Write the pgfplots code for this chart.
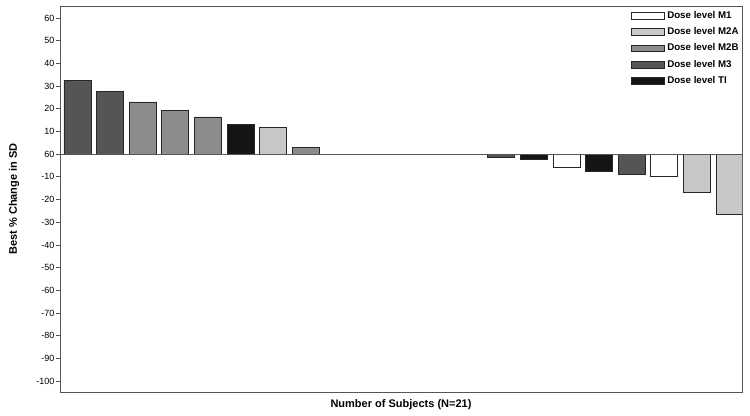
\documentclass[border=0pt]{standalone}
\usepackage{fontspec}
\setmainfont{Liberation Sans}
\usepackage{pgfplots}
\pgfplotsset{compat=1.18}
\usetikzlibrary{calc}
\definecolor{cM1}{HTML}{FFFFFF}
\definecolor{cM2A}{HTML}{C8C8C8}
\definecolor{cM2B}{HTML}{8C8C8C}
\definecolor{cM3}{HTML}{555555}
\definecolor{cTI}{HTML}{151515}
\definecolor{frame}{HTML}{555555}
\begin{document}
\begin{tikzpicture}
\begin{axis}[name=ax, scale only axis, width=511.5pt, height=289.5pt,
  xmin=0.463, xmax=21.38, ymin=-104.8, ymax=65.3,
  ybar, bar width=0.83,
  every axis plot/.append style={bar shift=0pt, draw=black!85, line width=0.7pt},
  xtick=\empty,
  ytick={-100,-90,...,60},
  yticklabels={-100,-90,-80,-70,-60,-50,-40,-30,-20,-10,60,10,20,30,40,50,60},
  ytick pos=left, tick align=outside, major tick length=3pt,
  axis line style={frame, line width=0.7pt}, tick style={frame, line width=0.6pt},
  yticklabel style={font=\fontsize{6.75}{7}\selectfont, inner sep=1pt},
  ylabel={\bfseries Best \% Change in SD},
  xlabel={\bfseries Number of Subjects (N=21)},
  label style={font=\fontsize{8.25}{9}\selectfont},
  ylabel style={at={(rel axis cs:0,0.5)}, anchor=center, rotate=0, yshift=34.5pt},
  xlabel style={at={(rel axis cs:0.5,0)}, anchor=center, yshift=-9.75pt},
  legend style={at={(rel axis cs:1,1)}, anchor=north east, draw=none, fill=none,
    font=\bfseries\fontsize{7.3}{8}\selectfont, row sep=1.4pt, inner sep=3pt,
    cells={anchor=west}, xshift=2.7pt, yshift=1.2pt},
  legend image code/.code={\draw[#1, line width=0.5pt] (0cm,-0.09cm) rectangle (0.88cm,0.09cm);},
]
\addplot[fill=cM1] coordinates {(16,-6.0) (19,-9.9)};
\addlegendentry{Dose level M1}
\addplot[fill=cM2A] coordinates {(7,11.6) (20,-16.8) (21,-26.5)};
\addlegendentry{Dose level M2A}
\addplot[fill=cM2B] coordinates {(3,23.0) (4,19.4) (5,16.4) (8,2.8)};
\addlegendentry{Dose level M2B}
\addplot[fill=cM3] coordinates {(1,32.6) (2,27.8) (14,-1.3) (18,-9.1)};
\addlegendentry{Dose level M3}
\addplot[fill=cTI] coordinates {(6,13.1) (15,-2.5) (17,-7.6)};
\addlegendentry{Dose level TI}
\draw[frame, line width=0.7pt] (axis cs:0.463,0) -- (axis cs:21.38,0);
\end{axis}
\pgfresetboundingbox
\path ($(ax.south west)+(-45pt,-17.25pt)$) rectangle ($(ax.north east)+(6pt,4.5pt)$);
\end{tikzpicture}
\end{document}
